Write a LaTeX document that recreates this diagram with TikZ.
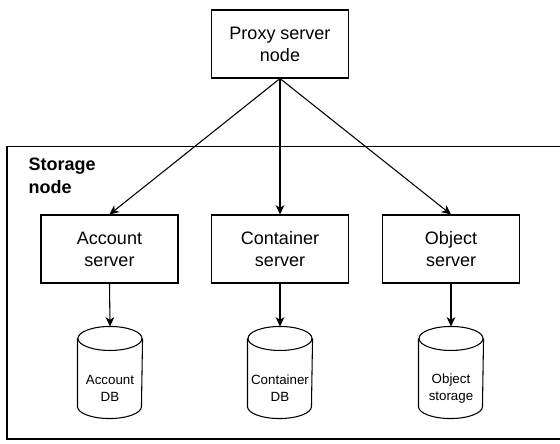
\documentclass[tikz,border=0pt]{standalone}
\usepackage{fontspec}
\setmainfont{Liberation Sans}
\usetikzlibrary{arrows.meta}
\begin{document}
\begin{tikzpicture}[x=0.75pt,y=-0.75pt,line width=0.8pt,
  box/.style={draw, line width=0.8pt, minimum width=102.75pt, minimum height=51pt, inner sep=0pt, align=center, font=\fontsize{13.5}{16.5}\selectfont},
  dbshape/.style={minimum width=48pt, minimum height=68.25pt, inner sep=0pt},
  dbtext/.style={align=center, inner sep=0pt, font=\fontsize{10}{12.75}\selectfont},
  arr/.style={-{Stealth[length=7pt,width=6.5pt,inset=2pt]}, line width=0.8pt}]
\useasboundingbox (0,0) rectangle (560,443);
\draw (7,146.5) rectangle (575,439);
\node[anchor=north west, inner sep=0pt, align=left, font=\bfseries\fontsize{13.5}{17.25}\selectfont] (stl) at (28,157) {Storage\\node};
\node[box] (proxy) at (280,44) {Proxy server\\node};
\node[box] (acc) at (109.5,249) {Account\\server};
\node[box] (cont) at (280,249) {Container\\server};
\node[box] (obj) at (451,249) {Object\\server};
\node[dbshape] (adb) at (110,372.5) {};
\node[dbshape] (cdb) at (280,372.5) {};
\node[dbshape] (odb) at (451,372.5) {};
\foreach \n in {adb,cdb,odb}{
  \draw ([yshift=-9pt]\n.north) ellipse [x radius=24pt, y radius=9pt];
  \draw ([yshift=-9pt]\n.north west) -- ([yshift=9pt]\n.south west)
    arc [start angle=180, end angle=360, x radius=24pt, y radius=9pt]
    -- ([yshift=-9pt]\n.north east);
}
\node[dbtext] (adbt) at (110,388.5) {Account\\DB};
\node[dbtext] (cdbt) at (280,388.5) {Container\\DB};
\node[dbtext] (odbt) at (451,388.5) {Object\\storage};
\draw[arr] (proxy.south) -- (acc.north);
\draw[arr] (proxy.south) -- (cont.north);
\draw[arr] (proxy.south) -- (obj.north);
\draw[arr] (acc.south) -- (adb.north);
\draw[arr] (cont.south) -- (cdb.north);
\draw[arr] (obj.south) -- (odb.north);
\end{tikzpicture}
\end{document}
